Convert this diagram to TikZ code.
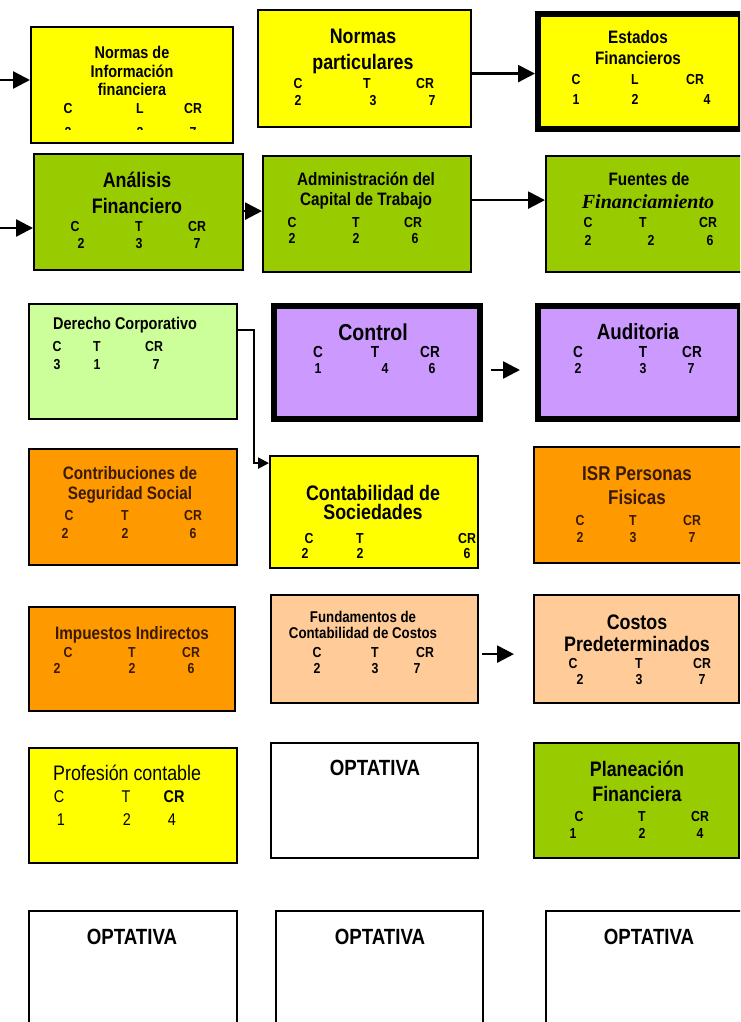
\documentclass[tikz,border=0pt]{standalone}
\usepackage{fontspec}
\setmainfont{Liberation Sans}
\newfontfamily\narrow{Liberation Sans}[FakeStretch=0.85]
\newfontfamily\serifbi{Liberation Serif}
\usetikzlibrary{arrows.meta}

\definecolor{amarillo}{HTML}{FFFF00}
\definecolor{verde}{HTML}{99CC00}
\definecolor{verdeclaro}{HTML}{CCFF99}
\definecolor{morado}{HTML}{CC99FF}
\definecolor{naranja}{HTML}{FF9900}
\definecolor{durazno}{HTML}{FFCC99}
\definecolor{cafe}{HTML}{3A1A00}

\begin{document}
\begin{tikzpicture}[x=1pt,y=-1pt,
  box/.style={draw=black,line width=2.2pt,anchor=north west,inner sep=0pt},
  gruesa/.style={line width=6pt},
  tit/.style={font=\narrow\bfseries\fontsize{18}{20}\selectfont,align=center,inner sep=0pt},
  cr/.style={font=\narrow\bfseries\fontsize{14.5}{14.5}\selectfont,inner sep=0pt,text height=10.5pt,text depth=0pt},
  flecha/.style={line width=2.5pt,-{Triangle[length=17pt,width=17pt]}}]
\useasboundingbox (0,0) rectangle (740,1022);
\clip (0,0) rectangle (740,1022);

% primer renglon
\node[box,fill=amarillo,minimum width=202pt,minimum height=116pt] (nif) at (30,26) {};
\node[box,fill=amarillo,minimum width=213pt,minimum height=117pt] (npart) at (257,9) {};
\node[box,gruesa,fill=amarillo,minimum width=203pt,minimum height=115pt] (edofin) at (535,11) {};
\node[tit,font=\narrow\bfseries\fontsize{17}{18.5}\selectfont] (nif-t) at (132,71) {Normas de\\Información\\financiera};
\foreach \x/\t [count=\i] in {68/C,140/L,193/CR} \node[cr] (nif-h\i) at (\x,108) {\t};
\begin{scope}
\clip (30,26) rectangle (232,130);
\foreach \x/\t [count=\i] in {68/2,140/2,193/7} \node[cr] (nif-n\i) at (\x,132) {\t};
\end{scope}
\node[tit,font=\narrow\bfseries\fontsize{21}{26}\selectfont] (npart-t) at (363,51) {Normas\\particulares};
\foreach \x/\t [count=\i] in {298/C,367/T,425/CR} \node[cr] (npart-h\i) at (\x,83) {\t};
\foreach \x/\t [count=\i] in {298/2,373/3,432/7} \node[cr] (npart-n\i) at (\x,100) {\t};
\node[tit,font=\narrow\bfseries\fontsize{18}{21}\selectfont] (edofin-t) at (638,48) {Estados\\Financieros};
\foreach \x/\t [count=\i] in {576/C,635/L,695/CR} \node[cr] (edofin-h\i) at (\x,79) {\t};
\foreach \x/\t [count=\i] in {576/1,635/2,707/4} \node[cr] (edofin-n\i) at (\x,99) {\t};
\coordinate (ent1) at (0,80);
\draw[flecha] (ent1) -- (ent1 -| nif.west);
\draw[flecha] ([yshift=-5pt]npart.east) -- ([yshift=-5pt]npart.east -| edofin.west);

% segundo renglon
\node[box,fill=verde,minimum width=209pt,minimum height=116pt] (anfin) at (33,153) {};
\node[box,fill=verde,minimum width=208pt,minimum height=116pt] (adcap) at (262,155) {};
\node[box,fill=verde,minimum width=200pt,minimum height=116pt] (fuentes) at (545,155) {};
\node[tit,font=\narrow\bfseries\fontsize{21}{26}\selectfont] (anfin-t) at (137,193) {Análisis\\Financiero};
\foreach \x/\t [count=\i] in {75/C,139/T,197/CR} \node[cr] (anfin-h\i) at (\x,226) {\t};
\foreach \x/\t [count=\i] in {81/2,139/3,197/7} \node[cr] (anfin-n\i) at (\x,243) {\t};
\node[tit] (adcap-t) at (366,191) {Administración del\\Capital de Trabajo};
\foreach \x/\t [count=\i] in {292/C,356/T,413/CR} \node[cr] (adcap-h\i) at (\x,222) {\t};
\foreach \x/\t [count=\i] in {292/2,356/2,415/6} \node[cr] (adcap-n\i) at (\x,238) {\t};
\node[tit] (fuentes-t) at (649,179) {Fuentes de};
\node[inner sep=0pt,font=\serifbi\bfseries\itshape\fontsize{20}{22}\selectfont] (fuentes-t2) at (648,202) {Financiamiento};
\foreach \x/\t [count=\i] in {588/C,643/T,708/CR} \node[cr] (fuentes-h\i) at (\x,222) {\t};
\foreach \x/\t [count=\i] in {588/2,651/2,710/6} \node[cr] (fuentes-n\i) at (\x,240) {\t};
\coordinate (ent2) at (0,228);
\draw[flecha] (ent2) -- (ent2 -| anfin.west);
\draw[flecha] ([yshift=1pt]anfin.east) -- ([yshift=1pt]anfin.east -| adcap.west);
\draw[flecha] ([yshift=14pt]adcap.east) -- ([yshift=14pt]adcap.east -| fuentes.west);

% tercer renglon
\node[box,fill=verdeclaro,minimum width=208pt,minimum height=115pt] (dercorp) at (28,303) {};
\node[box,gruesa,fill=morado,minimum width=206pt,minimum height=113pt] (control) at (271,303) {};
\node[box,gruesa,fill=morado,minimum width=202pt,minimum height=113pt] (audit) at (535,303) {};
\node[tit,anchor=west,font=\narrow\bfseries\fontsize{17}{20}\selectfont] (dercorp-t) at (53,325) {Derecho Corporativo};
\foreach \x/\t [count=\i] in {57/C,97/T,154/CR} \node[cr] (dercorp-h\i) at (\x,346) {\t};
\foreach \x/\t [count=\i] in {57/3,97/1,156/7} \node[cr] (dercorp-n\i) at (\x,364) {\t};
\node[tit,font=\narrow\bfseries\fontsize{23}{24}\selectfont] (control-t) at (373,332) {Control};
\foreach \x/\t [count=\i] in {318/C,375/T,430/CR} \node[cr,font=\narrow\bfseries\fontsize{16}{16}\selectfont,text height=11.5pt] (control-h\i) at (\x,352) {\t};
\foreach \x/\t [count=\i] in {318/1,385/4,432/6} \node[cr] (control-n\i) at (\x,368) {\t};
\node[tit,font=\narrow\bfseries\fontsize{22}{24}\selectfont] (audit-t) at (638,332) {Auditoria};
\foreach \x/\t [count=\i] in {578/C,643/T,692/CR} \node[cr,font=\narrow\bfseries\fontsize{16}{16}\selectfont,text height=11.5pt] (audit-h\i) at (\x,352) {\t};
\foreach \x/\t [count=\i] in {578/2,643/3,691/7} \node[cr] (audit-n\i) at (\x,368) {\t};
\draw[flecha] ([xshift=8pt,yshift=-7.5pt]control.east) -- ([xshift=-15pt,yshift=-7.5pt]audit.west);

% cuarto renglon
\node[box,fill=naranja,minimum width=208pt,minimum height=116pt] (contrib) at (28,448) {};
\node[box,fill=amarillo,minimum width=208pt,minimum height=112pt] (contsoc) at (269,455) {};
\node[box,fill=naranja,minimum width=210pt,minimum height=116pt] (isr) at (533,446) {};
\node[tit,text=cafe] (contrib-t) at (130,485) {Contribuciones de\\Seguridad Social};
\foreach \x/\t [count=\i] in {69/C,125/T,193/CR} \node[cr,text=cafe] (contrib-h\i) at (\x,515) {\t};
\foreach \x/\t [count=\i] in {65/2,125/2,193/6} \node[cr,text=cafe] (contrib-n\i) at (\x,533) {\t};
\node[tit,font=\narrow\bfseries\fontsize{21}{19}\selectfont] (contsoc-t) at (373,502) {Contabilidad de\\Sociedades};
\foreach \x/\t [count=\i] in {309/C,360/T,467/CR} \node[cr] (contsoc-h\i) at (\x,538) {\t};
\foreach \x/\t [count=\i] in {305/2,360/2,467/6} \node[cr] (contsoc-n\i) at (\x,553) {\t};
\node[tit,text=cafe,font=\narrow\bfseries\fontsize{20}{24}\selectfont] (isr-t) at (637,486) {ISR Personas\\Fisicas};
\foreach \x/\t [count=\i] in {580/C,633/T,692/CR} \node[cr,text=cafe] (isr-h\i) at (\x,520) {\t};
\foreach \x/\t [count=\i] in {580/2,633/3,692/7} \node[cr,text=cafe] (isr-n\i) at (\x,537) {\t};
\draw[line width=2.2pt,-{Triangle[length=11pt,width=11pt]}] ([yshift=32pt]dercorp.east) -- ++(16,0) |- ([yshift=49pt]contsoc.west);

% quinto renglon
\node[box,fill=naranja,minimum width=206pt,minimum height=104pt] (impind) at (28,606) {};
\node[box,fill=durazno,minimum width=207pt,minimum height=108pt] (fundcost) at (270,594) {};
\node[box,fill=durazno,minimum width=205pt,minimum height=108pt] (costpred) at (533,594) {};
\node[tit,text=cafe,font=\narrow\bfseries\fontsize{18}{20}\selectfont] (impind-t) at (132,635) {Impuestos Indirectos};
\foreach \x/\t [count=\i] in {68/C,132/T,191/CR} \node[cr,text=cafe] (impind-h\i) at (\x,652) {\t};
\foreach \x/\t [count=\i] in {57/2,132/2,191/6} \node[cr,text=cafe] (impind-n\i) at (\x,668) {\t};
\node[tit,font=\narrow\bfseries\fontsize{15.6}{16}\selectfont] (fundcost-t) at (363,625) {Fundamentos de\\Contabilidad de Costos};
\foreach \x/\t [count=\i] in {317/C,375/T,425/CR} \node[cr] (fundcost-h\i) at (\x,652) {\t};
\foreach \x/\t [count=\i] in {317/2,375/3,417/7} \node[cr] (fundcost-n\i) at (\x,668) {\t};
\node[tit,font=\narrow\bfseries\fontsize{21}{22}\selectfont] (costpred-t) at (637,633) {Costos\\Predeterminados};
\foreach \x/\t [count=\i] in {573/C,639/T,702/CR} \node[cr] (costpred-h\i) at (\x,663) {\t};
\foreach \x/\t [count=\i] in {580/2,639/3,702/7} \node[cr] (costpred-n\i) at (\x,679) {\t};
\draw[flecha] ([xshift=3pt,yshift=-5pt]fundcost.east) -- ([xshift=-19pt,yshift=-5pt]costpred.west);

% sexto renglon
\node[box,fill=amarillo,minimum width=208pt,minimum height=115pt] (profcont) at (28,747) {};
\node[box,fill=white,minimum width=207pt,minimum height=115pt] (opt1) at (270,742) {};
\node[box,fill=verde,minimum width=205pt,minimum height=115pt] (planfin) at (533,742) {};
\node[tit,anchor=west,font=\narrow\fontsize{21}{22}\selectfont] (profcont-t) at (53,773) {Profesión contable};
\foreach \x/\t [count=\i] in {59/C,126/T} \node[cr,font=\narrow\fontsize{17}{17}\selectfont,text height=12pt] (profcont-h\i) at (\x,796) {\t};
\node[cr,font=\narrow\bfseries\fontsize{17}{17}\selectfont,text height=12pt] (profcont-h3) at (174,796) {CR};
\foreach \x/\t [count=\i] in {61/1,127/2,172/4} \node[cr,font=\narrow\fontsize{17}{17}\selectfont,text height=12pt] (profcont-n\i) at (\x,819) {\t};
\node[tit,font=\narrow\bfseries\fontsize{22}{22}\selectfont] (opt1-t) at (375,768) {OPTATIVA};
\node[tit,font=\narrow\bfseries\fontsize{21}{25}\selectfont] (planfin-t) at (637,781) {Planeación\\Financiera};
\foreach \x/\t [count=\i] in {579/C,642/T,700/CR} \node[cr] (planfin-h\i) at (\x,816) {\t};
\foreach \x/\t [count=\i] in {573/1,642/2,700/4} \node[cr] (planfin-n\i) at (\x,833) {\t};

% septimo renglon
\node[box,fill=white,minimum width=208pt,minimum height=150pt] (opt2) at (28,910) {};
\node[box,fill=white,minimum width=207pt,minimum height=150pt] (opt3) at (275,910) {};
\node[box,fill=white,minimum width=210pt,minimum height=150pt] (opt4) at (545,910) {};
\node[tit,font=\narrow\bfseries\fontsize{22}{22}\selectfont] (opt2-t) at (132,937) {OPTATIVA};
\node[tit,font=\narrow\bfseries\fontsize{22}{22}\selectfont] (opt3-t) at (380,937) {OPTATIVA};
\node[tit,font=\narrow\bfseries\fontsize{22}{22}\selectfont] (opt4-t) at (649,937) {OPTATIVA};
\end{tikzpicture}
\end{document}
